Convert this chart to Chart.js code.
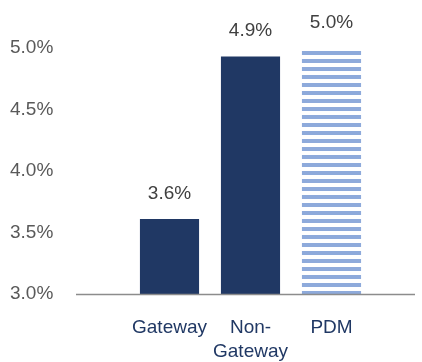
<!DOCTYPE html>
<html>
<head>
<meta charset="utf-8">
<script src="https://cdn.jsdelivr.net/npm/chart.js@4/dist/chart.umd.min.js"></script>
<style>
  html, body { margin: 0; padding: 0; background: #fff; }
  #wrap { width: 422px; height: 362px; }
</style>
</head>
<body>
<div id="wrap"><canvas id="canvas" width="422" height="362"></canvas></div>
<script>
var categories = [['Gateway'], ['Non-', 'Gateway'], ['PDM']];
var values = [3.61, 4.93, 5.0];
var yTicks = [3.0, 3.5, 4.0, 4.5, 5.0];

var navy = '#203864';
var lightBlue = '#8eaadb';

// horizontal stripes for the PDM bar
function stripePattern(ctx) {
  var p = document.createElement('canvas');
  p.width = 8; p.height = 8;
  var pc = p.getContext('2d');
  pc.fillStyle = '#ffffff';
  pc.fillRect(0, 0, 8, 8);
  pc.fillStyle = lightBlue;
  pc.fillRect(0, 3, 8, 4);
  return ctx.createPattern(p, 'repeat');
}

var ctx = document.getElementById('canvas').getContext('2d');

var baseLine = {
  id: 'baseLine',
  afterDraw: function(chart) {
    var c = chart.ctx, a = chart.chartArea;
    var y = Math.round(chart.scales.y.getPixelForValue(3.0)) + 0.5;
    c.save();
    c.strokeStyle = '#8c8c8c';
    c.lineWidth = 1.5;
    c.beginPath();
    c.moveTo(a.left - 53, y);
    c.lineTo(a.right + 43, y);
    c.stroke();
    c.restore();
  }
};

var valueLabels = {
  id: 'valueLabels',
  afterDatasetsDraw: function(chart) {
    var c = chart.ctx;
    var meta = chart.getDatasetMeta(0);
    c.save();
    c.font = '19px "Liberation Sans", Arial, sans-serif';
    c.fillStyle = '#404040';
    c.textAlign = 'center';
    c.textBaseline = 'bottom';
    meta.data.forEach(function(bar, i) {
      c.fillText(values[i].toFixed(1) + '%', bar.x, bar.y - 16);
    });
    c.restore();
  }
};

window.myBar = new Chart(ctx, {
  type: 'bar',
  data: {
    labels: categories,
    datasets: [{
      data: values,
      backgroundColor: [navy, navy, stripePattern(ctx)],
      borderWidth: 0,
      barPercentage: 0.73,
      categoryPercentage: 1.0
    }]
  },
  options: {
    responsive: false,
    animation: false,
    layout: { padding: { top: 48, right: 50, left: 10, bottom: 0 } },
    plugins: {
      legend: { display: false },
      tooltip: { enabled: false }
    },
    scales: {
      x: {
        grid: { display: false },
        border: { display: false },
        afterFit: function(axis) { axis.height = 68; },
        ticks: {
          color: navy,
          font: { size: 19, family: '"Liberation Sans", Arial, sans-serif', lineHeight: 1.25 },
          padding: 14,
          autoSkip: false,
          maxRotation: 0
        }
      },
      y: {
        min: 3.0,
        max: 5.0,
        afterBuildTicks: function(axis) {
          axis.ticks = yTicks.map(function(v) { return { value: v }; });
        },
        afterFit: function(axis) { axis.width = 119; },
        grid: { display: false },
        border: { display: false },
        ticks: {
          color: '#595959',
          font: { size: 19, family: '"Liberation Sans", Arial, sans-serif' },
          padding: 0,
          crossAlign: 'far',
          callback: function(v) { return Number(v).toFixed(1) + '%'; }
        }
      }
    }
  },
  plugins: [baseLine, valueLabels]
});
</script>
</body>
</html>
